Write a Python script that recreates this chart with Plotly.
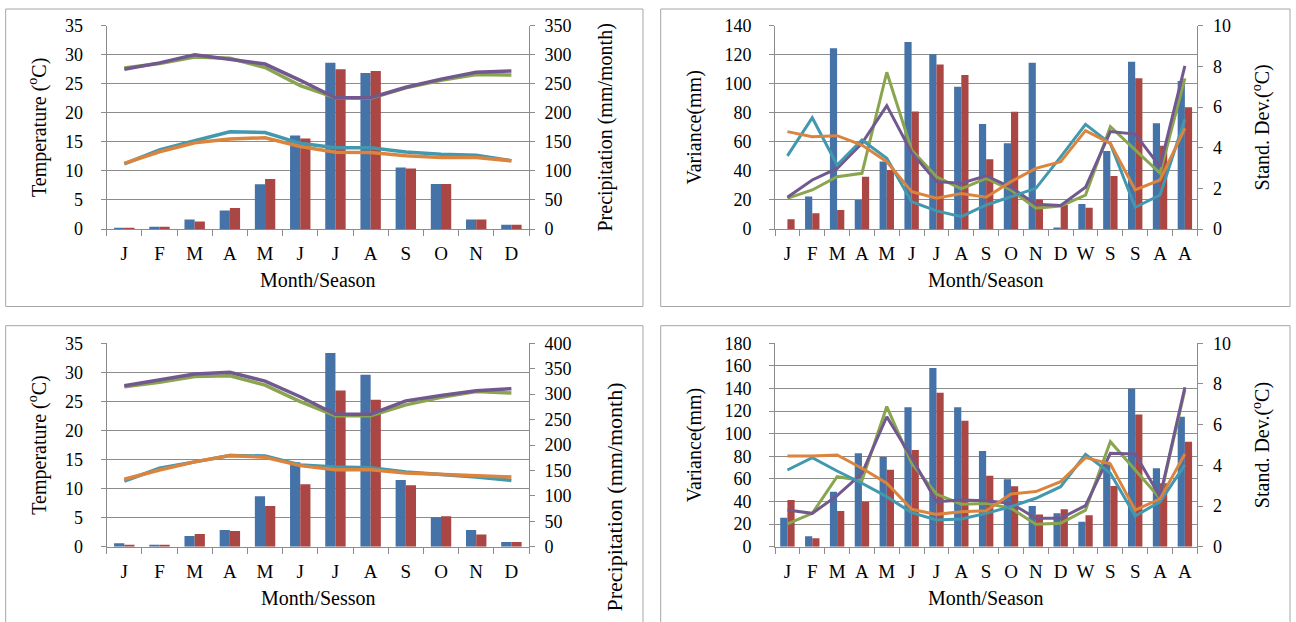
import plotly.graph_objects as go

W, H = 1296, 622

# ---------------- data ----------------
months = ["J", "F", "M", "A", "M", "J", "J", "A", "S", "O", "N", "D"]
seasons = ["J", "F", "M", "A", "M", "J", "J", "A", "S", "O", "N", "D", "W", "S", "S", "A", "A"]

# Panel 1 (top-left): precipitation bars (right axis) and temperature lines (left axis)
p1_precip_blue = [2, 4, 16.5, 32, 77, 161, 286, 268.5, 106, 77.5, 16.5, 7.5]
p1_precip_red = [2, 4, 13, 36, 86, 156, 275, 272, 104, 77.5, 16.5, 7.5]
p1_tmax_green = [27.7, 28.5, 29.6, 29.4, 27.8, 24.7, 22.6, 22.5, 24.3, 25.6, 26.6, 26.5]
p1_tmax_purple = [27.5, 28.6, 30.0, 29.2, 28.4, 25.6, 22.6, 22.6, 24.4, 25.8, 27.0, 27.2]
p1_tmin_teal = [11.2, 13.6, 15.2, 16.75, 16.6, 14.75, 14.0, 14.0, 13.25, 12.85, 12.7, 11.75]
p1_tmin_orange = [11.3, 13.3, 14.85, 15.5, 15.7, 14.2, 13.2, 13.15, 12.6, 12.3, 12.3, 11.75]

# Panel 3 (bottom-left)
p3_precip_blue = [6.6, 4, 21, 33, 99, 166, 381, 338, 131, 58, 33, 9]
p3_precip_red = [4, 4, 25, 31, 80, 123, 307, 289, 121, 60, 24, 9]
p3_tmax_green = [27.5, 28.3, 29.3, 29.4, 27.8, 24.95, 22.55, 22.55, 24.4, 25.7, 26.7, 26.45]
p3_tmax_purple = [27.7, 28.7, 29.7, 30.0, 28.5, 25.8, 22.8, 22.8, 25.1, 26.0, 26.85, 27.2]
p3_tmin_teal = [11.3, 13.5, 14.6, 15.7, 15.6, 14.05, 13.7, 13.6, 12.85, 12.5, 12.0, 11.4]
p3_tmin_orange = [11.6, 13.2, 14.6, 15.7, 15.4, 13.95, 13.25, 13.25, 12.7, 12.5, 12.2, 12.0]

# Panel 2 (top-right): variance bars (left axis) and std-dev lines (right axis)
p2_var_blue = [0, 22.3, 124.4, 20, 46.4, 128.8, 120.3, 98, 72.3, 59, 114.5, 1, 17.2, 53.7, 115.2, 72.8, 102]
p2_var_red = [6.7, 10.8, 13.1, 36, 40.6, 81, 113.2, 106, 48, 80.8, 20.4, 16.5, 14.7, 36.5, 103.8, 57.4, 83.8]
p2_sd_green = [1.51, 1.92, 2.57, 2.74, 7.71, 3.89, 2.57, 1.97, 2.49, 1.92, 1.02, 1.13, 1.67, 5.03, 3.89, 2.74, 7.41]
p2_sd_purple = [1.56, 2.41, 2.98, 4.21, 6.07, 3.75, 2.33, 2.25, 2.62, 2.05, 1.22, 1.16, 2.05, 4.79, 4.67, 3.07, 8.02]
p2_sd_teal = [3.6, 5.47, 3.15, 4.38, 3.48, 1.34, 0.89, 0.61, 1.18, 1.59, 2.0, 3.55, 5.15, 4.2, 1.07, 1.67, 5.4]
p2_sd_orange = [4.79, 4.54, 4.59, 4.13, 3.31, 1.84, 1.51, 1.75, 1.56, 2.33, 2.98, 3.31, 4.84, 4.21, 1.92, 2.41, 4.95]

# Panel 4 (bottom-right)
p4_var_blue = [25.7, 9.2, 48.7, 82.6, 79.4, 123.4, 158.1, 123.4, 84.7, 59.6, 36.0, 29.5, 22.1, 75.2, 139.8, 69.4, 115]
p4_var_red = [41.3, 7.4, 31.6, 39.8, 68.1, 85.6, 136.3, 111.5, 62.8, 53.4, 28.6, 33.1, 27.8, 53.7, 117.1, 56.1, 92.9]
p4_sd_green = [1.12, 1.64, 3.44, 3.25, 6.89, 4.1, 2.59, 2.09, 2.13, 1.89, 1.1, 1.15, 1.8, 5.16, 3.77, 2.38, 7.71]
p4_sd_purple = [1.8, 1.64, 2.51, 3.61, 6.39, 4.38, 2.21, 2.3, 2.26, 2.13, 1.4, 1.4, 2.02, 4.59, 4.56, 2.46, 7.84]
p4_sd_teal = [3.77, 4.38, 3.72, 3.12, 2.46, 1.67, 1.31, 1.36, 1.64, 1.97, 2.38, 2.95, 4.54, 3.61, 1.51, 2.21, 4.02]
p4_sd_orange = [4.46, 4.46, 4.51, 3.86, 3.12, 1.84, 1.59, 1.72, 1.77, 2.59, 2.71, 3.2, 4.38, 4.07, 1.8, 2.35, 4.56]

# ---------------- style ----------------
BLUE, RED = "#4572A7", "#AA4643"
GREEN, PURPLE, TEAL, ORANGE = "#89A54E", "#71588F", "#4198AF", "#DB843D"
GRID = "#8c8c8c"
FONT = "Liberation Serif"
TICKFONT = dict(family=FONT, size=18, color="black")


def fx(p):
    return p / W


def fy(p):
    return 1 - p / H


XL = [fx(106.7), fx(529)]
XR = [fx(775), fx(1197.3)]
YT = [fy(229), fy(25.7)]
YB = [fy(546.7), fy(343.3)]
Y_P3_TITLE = [fy(598.5), fy(395.5)]

fig = go.Figure()


def add_panel(xa, ybar, yline, cats, bar1, bar2, lines, lw):
    xs = list(range(len(cats)))
    fig.add_trace(go.Bar(x=xs, y=bar1, marker=dict(color=BLUE, line=dict(width=0)),
                         xaxis=xa, yaxis=ybar, showlegend=False))
    fig.add_trace(go.Bar(x=xs, y=bar2, marker=dict(color=RED, line=dict(width=0)),
                         xaxis=xa, yaxis=ybar, showlegend=False))
    for vals, col in zip(lines, [GREEN, PURPLE, TEAL, ORANGE]):
        fig.add_trace(go.Scatter(x=xs, y=vals, mode="lines",
                                 line=dict(color=col, width=lw),
                                 xaxis=xa, yaxis=yline, showlegend=False))


add_panel("x", "y", "y2", months, p1_precip_blue, p1_precip_red,
          [p1_tmax_green, p1_tmax_purple, p1_tmin_teal, p1_tmin_orange], 3.5)
add_panel("x2", "y3", "y4", seasons, p2_var_blue, p2_var_red,
          [p2_sd_green, p2_sd_purple, p2_sd_teal, p2_sd_orange], 3)
add_panel("x3", "y5", "y6", months, p3_precip_blue, p3_precip_red,
          [p3_tmax_green, p3_tmax_purple, p3_tmin_teal, p3_tmin_orange], 3.5)
add_panel("x4", "y7", "y8", seasons, p4_var_blue, p4_var_red,
          [p4_sd_green, p4_sd_purple, p4_sd_teal, p4_sd_orange], 3)
# empty helper trace so the title-only axis of panel 3 is laid out
fig.add_trace(go.Scatter(x=[], y=[], xaxis="x3", yaxis="y9", showlegend=False,
                         hoverinfo="skip"))


def xaxis(domain, anchor, cats):
    n = len(cats)
    return dict(domain=domain, anchor=anchor, range=[-0.5, n - 0.5],
                tickmode="array", tickvals=list(range(n)), ticktext=cats,
                ticks="", showgrid=False, zeroline=False,
                showline=True, linecolor=GRID, linewidth=1,
                tickfont=dict(family=FONT, size=19, color="black"),
                ticklabelstandoff=7, automargin=False,
                minor=dict(tickmode="array", tickvals=[i - 0.5 for i in range(n + 1)],
                           ticks="outside", ticklen=6, tickcolor=GRID, tickwidth=1,
                           showgrid=False))


def yaxis(domain, anchor, side, rng, dtick, grid, title, standoff, overlaying=None):
    d = dict(domain=domain, anchor=anchor, side=side, range=rng, dtick=dtick,
             tick0=0, showgrid=grid, gridcolor=GRID, gridwidth=1, zeroline=False,
             showline=True, linecolor=GRID, linewidth=1, ticks="outside",
             ticklen=5, tickcolor=GRID, tickfont=TICKFONT,
             ticklabelstandoff=(14 if side == "left" else 6),
             automargin=False,
             title=dict(text=title, standoff=standoff,
                        font=dict(family=FONT, size=20, color="black")))
    if overlaying:
        d["overlaying"] = overlaying
    return d


TEMP = "Temperature (<sup>o</sup>C)"
PREC = "Precipitation (mm/month)"
VAR = "Variance(mm)"
SD = "Stand. Dev.(<sup>o</sup>C)"

fig.update_layout(
    width=W, height=H, autosize=False,
    margin=dict(l=0, r=0, t=0, b=0),
    paper_bgcolor="white", plot_bgcolor="rgba(0,0,0,0)",
    barmode="group", bargap=0.42, bargroupgap=0,
    font=dict(family=FONT, color="black"),
    xaxis=xaxis(XL, "y", months),
    xaxis2=xaxis(XR, "y3", seasons),
    xaxis3=xaxis(XL, "y5", months),
    xaxis4=xaxis(XR, "y7", seasons),
    yaxis=yaxis(YT, "x", "right", [0, 350], 50, False, PREC, 27),
    yaxis2=yaxis(YT, "x", "left", [0, 35], 5, True, TEMP, 13, "y"),
    yaxis3=yaxis(YT, "x2", "left", [0, 140], 20, True, VAR, 17),
    yaxis4=yaxis(YT, "x2", "right", [0, 10], 2, False, SD, 25, "y3"),
    yaxis5=yaxis(YB, "x3", "right", [0, 400], 50, False, "", 0),
    yaxis6=yaxis(YB, "x3", "left", [0, 35], 5, True, TEMP, 13, "y5"),
    yaxis7=yaxis(YB, "x4", "left", [0, 180], 20, True, VAR, 17),
    yaxis8=yaxis(YB, "x4", "right", [0, 10], 2, False, SD, 25, "y7"),
    yaxis9=dict(domain=Y_P3_TITLE, anchor="x3", side="right", range=[0, 1],
                showline=False, showgrid=False, zeroline=False, ticks="",
                showticklabels=False, automargin=False, fixedrange=True,
                title=dict(text=PREC, standoff=77,
                           font=dict(family=FONT, size=22, color="black"))),
)

# panel frames
for x0, x1, y0, y1 in [(5.7, 643, 9, 306.5), (660.7, 1290, 9, 306.5),
                       (5.7, 643, 325.7, 640), (660.7, 1290, 325.7, 640)]:
    fig.add_shape(type="rect", xref="paper", yref="paper",
                  x0=fx(x0), x1=fx(x1), y0=fy(y1), y1=fy(y0),
                  line=dict(color="#a6a6a6", width=1), layer="below")


def ann(text, xp, yp, size=20):
    fig.add_annotation(text=text, xref="paper", yref="paper", x=fx(xp), y=fy(yp),
                       xanchor="center", yanchor="middle", showarrow=False,
                       font=dict(family=FONT, size=size, color="black"))


ann("Month/Season", 318, 280)
ann("Month/Sesson", 318, 597.5)
ann("Month/Season", 986, 280)
ann("Month/Season", 986, 597.5)

fig.write_html("out.html", config={"displayModeBar": False},
               post_script="document.body.style.margin='0px';")
